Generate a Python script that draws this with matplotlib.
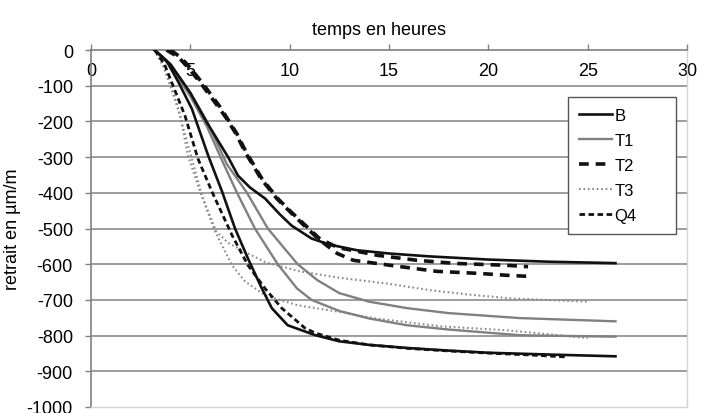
import matplotlib
matplotlib.use("Agg")
import matplotlib.pyplot as plt
from matplotlib.lines import Line2D

plt.rcParams['font.family'] = ['Liberation Sans', 'DejaVu Sans']
plt.rcParams['axes.unicode_minus'] = False
plt.rcParams['lines.scale_dashes'] = False

# temps (h) / retrait (um/m)
t_B1 = [3.2, 4.0, 5.0, 5.8, 6.9, 7.4, 8.0, 8.76, 9.5, 10.1, 11.1, 12.0, 13.4, 15.0, 17.0, 20.0, 23.0, 26.4]
B1 = [0, -40, -120, -200, -300, -352, -385, -416, -460, -492, -528, -545, -561, -570, -578, -587, -593, -597]
t_B2 = [3.2, 3.8, 4.4, 5.08, 5.9, 6.6, 7.25, 7.9, 8.6, 9.1, 9.9, 11.3, 12.5, 14.0, 16.0, 18.0, 20.0, 23.0, 26.4]
B2 = [0, -30, -90, -165, -296, -397, -500, -584, -668, -723, -771, -799, -816, -826, -835, -842, -848, -853, -858]

t_T1a = [3.2, 4.0, 5.0, 5.84, 6.84, 7.85, 8.9, 9.5, 10.4, 11.4, 12.5, 14.0, 15.9, 18.0, 21.6, 26.4]
T1a = [0, -40, -120, -200, -320, -400, -500, -540, -600, -645, -681, -705, -723, -737, -751, -760]
t_T1b = [3.2, 4.0, 5.0, 5.84, 6.6, 7.35, 8.25, 9.4, 10.37, 11.1, 12.5, 14.0, 15.9, 18.0, 21.6, 26.4]
T1b = [0, -45, -130, -215, -310, -400, -500, -600, -668, -700, -731, -752, -771, -783, -799, -803]

t_T2a = [4.0, 4.5, 5.0, 5.64, 6.49, 6.84, 7.35, 7.8, 8.6, 9.4, 10.1, 10.77, 11.5, 12.4, 13.5, 14.4, 16.4, 18.4, 20.9, 22.0]
T2a = [0, -20, -50, -95, -159, -190, -235, -285, -360, -416, -455, -490, -528, -553, -565, -575, -589, -598, -603, -607]
t_T2b = [3.8, 4.4, 4.9, 5.55, 6.4, 6.8, 7.3, 7.75, 8.55, 9.35, 10.05, 10.7, 11.5, 12.4, 13.2, 15.45, 17.4, 19.6, 20.9, 22.0]
T2b = [0, -20, -50, -95, -159, -190, -235, -285, -360, -416, -455, -490, -532, -570, -589, -606, -620, -626, -631, -634]

t_T3a = [3.2, 3.7, 4.3, 4.9, 5.6, 6.3, 6.9, 7.9, 8.8, 10.5, 12.5, 15.0, 17.1, 19.0, 21.2, 25.0]
T3a = [0, -50, -150, -270, -410, -508, -540, -570, -595, -620, -638, -655, -673, -685, -696, -705]
t_T3b = [3.2, 3.6, 4.0, 4.48, 4.88, 5.49, 6.24, 7.1, 7.75, 8.76, 10.4, 11.3, 12.9, 14.2, 17.6, 20.9, 25.0]
T3b = [0, -40, -100, -180, -296, -397, -508, -603, -648, -687, -715, -723, -737, -751, -774, -785, -807]

t_Q4 = [3.2, 3.7, 4.2, 4.73, 5.38, 6.09, 7.1, 7.9, 8.76, 9.6, 10.77, 11.3, 12.5, 14.0, 16.0, 18.0, 20.0, 22.0, 24.0]
Q4 = [0, -40, -110, -184, -304, -397, -519, -603, -668, -723, -779, -793, -813, -826, -836, -843, -849, -854, -860]

x_ticks = [0, 5, 10, 15, 20, 25, 30]
y_ticks = list(range(-1000, 1, 100))

fig = plt.figure(figsize=(7.02, 4.14), dpi=100)
ax = fig.add_axes([91 / 702, 1 - 408 / 414, 596 / 702, 357 / 414])

for y in y_ticks[1:-1]:
    ax.axhline(y, color='#8c8c8c', lw=1.2, zorder=1)

style_B = dict(color='#111111', lw=1.9)
style_T1 = dict(color='#808080', lw=1.7)
style_T2 = dict(color='#111111', lw=2.6, dashes=(7, 5))
style_T3 = dict(color='#8a8a8a', lw=1.5, dashes=(1.2, 2))
style_Q4 = dict(color='#111111', lw=2.0, dashes=(4, 2.5))

ax.plot(t_T3a, T3a, zorder=3, **style_T3)
ax.plot(t_T3b, T3b, zorder=3, **style_T3)
ax.plot(t_T1a, T1a, zorder=3, **style_T1)
ax.plot(t_T1b, T1b, zorder=3, **style_T1)
ax.plot(t_B1, B1, zorder=4, **style_B)
ax.plot(t_B2, B2, zorder=4, **style_B)
ax.plot(t_T2a, T2a, zorder=4, **style_T2)
ax.plot(t_T2b, T2b, zorder=4, **style_T2)
ax.plot(t_Q4, Q4, zorder=4, **style_Q4)

ax.set_xlim(0, 30)
ax.set_ylim(-1000, 0)
ax.set_xticks(x_ticks)
ax.set_yticks(y_ticks)

ax.xaxis.tick_top()
ax.tick_params(axis='x', direction='out', length=4, width=1, color='#808080',
               pad=-25, labelsize=13)
ax.tick_params(axis='y', direction='out', length=4, width=1, color='#808080',
               pad=9, labelsize=13)

for side in ['left', 'top']:
    ax.spines[side].set_color('#808080')
    ax.spines[side].set_linewidth(1.2)
for side in ['right', 'bottom']:
    ax.spines[side].set_color('#d4d4d4')
    ax.spines[side].set_linewidth(1)

ax.set_xlabel('temps en heures', fontsize=13)
ax.xaxis.set_label_position('top')
ax.xaxis.set_label_coords(0.483, 1.045)
ax.set_ylabel('retrait en µm/m', fontsize=13, labelpad=4)

handles = [Line2D([], [], **style_B), Line2D([], [], **style_T1),
           Line2D([], [], **style_T2), Line2D([], [], **style_T3),
           Line2D([], [], **style_Q4)]
leg = ax.legend(handles, ['B', 'T1', 'T2', 'T3', 'Q4'], loc='upper left',
                bbox_to_anchor=(0.80, 0.0, 108 / 596, 0.868), mode='expand',
                borderaxespad=0, fontsize=12, frameon=True, fancybox=False,
                handlelength=2.0, handletextpad=0.15, labelspacing=0.6,
                borderpad=0.65)
leg.get_frame().set_edgecolor('#555555')
leg.get_frame().set_linewidth(1)
leg.get_frame().set_alpha(1)

fig.savefig('out.png', dpi=100)
